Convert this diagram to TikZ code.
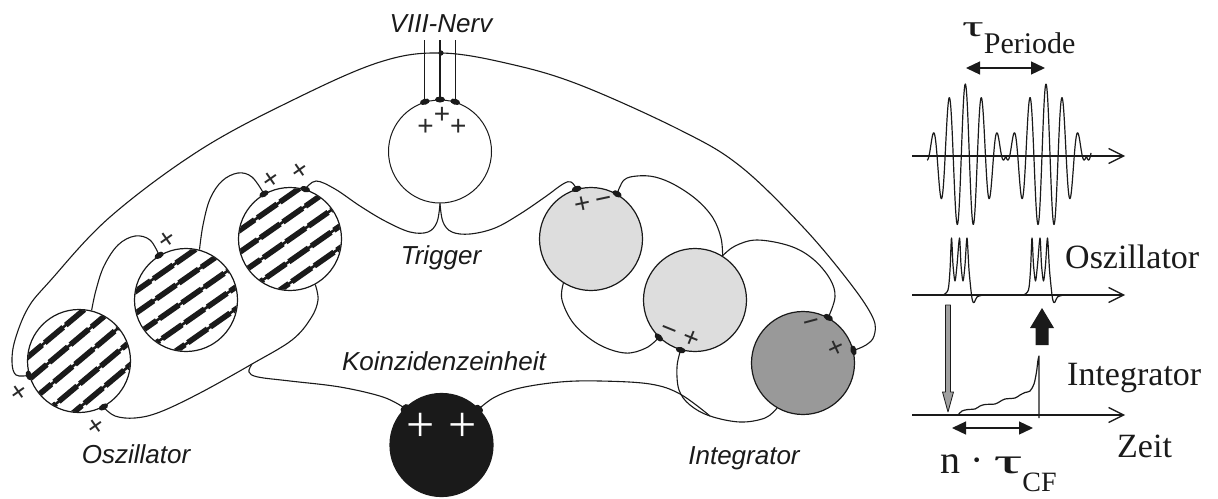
\documentclass[tikz,border=0pt]{standalone}
\usepackage{graphicx}
\usepackage{fontspec}
\setmainfont{Liberation Serif}
\newfontfamily\labelfont{Liberation Sans}
\usetikzlibrary{arrows.meta,shapes.geometric}
\definecolor{ink}{HTML}{1A1A1A}
\definecolor{signgray}{HTML}{2B2B2B}
\definecolor{cellgray}{HTML}{DDDDDD}
\definecolor{darkcell}{HTML}{999999}
\definecolor{arrowgray}{HTML}{A0A0A0}
% diagonal stripes inside an oscillator cell: #1 cell name, #2 angle
\newcommand\hatchcell[2]{%
  \begin{scope}
    \clip (#1.center) circle[radius=50.9pt];
    \begin{scope}[shift={(#1.center)}, rotate=#2]
      \foreach \k in {-3,...,3}{
        \draw[ink, line width=2.6pt] (-60,\k*18) -- (60,\k*18);
        \draw[ink, line width=5.6pt, dash pattern=on 24pt off 3.5pt, dash phase=\k*9pt]
          (-60,\k*18) -- (60,\k*18);}
    \end{scope}
  \end{scope}}
\begin{document}
\begin{tikzpicture}[x=1pt, y=-1pt, line join=round,
  cell/.style={circle, draw=ink, line width=1.2pt, minimum size=103pt, inner sep=0pt},
  knob/.style={ellipse, fill=ink, minimum width=10pt, minimum height=6pt, inner sep=0pt},
  fiber/.style={draw=ink, line width=1.1pt},
  sign/.style={text=signgray, inner sep=0pt, font=\labelfont\fontsize{28}{28}\selectfont},
  cellname/.style={font=\labelfont\itshape\fontsize{26}{30}\selectfont, text=ink, anchor=base, inner sep=0pt},
  serif/.style={font=\fontsize{34}{34}\selectfont, text=ink, anchor=base west, inner sep=0pt},
  axis/.style={draw=ink, line width=1.3pt, -{Straight Barb[length=15pt,width=15pt]}},
  span/.style={draw=ink, line width=1.3pt, {Triangle[length=14pt,width=13pt]}-{Triangle[length=14pt,width=13pt]}},
  trace/.style={draw=ink, line width=1.2pt}]

\useasboundingbox (0,0) rectangle (1218,498);
\fill[white] (0,0) rectangle (1218,498);

% ---- cells ----
\node[cell, fill=white, line width=1pt] (trig) at (440,151.5) {};
\node[cell, fill=white] (osc1) at (79,361) {};
\node[cell, fill=white] (osc2) at (186,300) {};
\node[cell, fill=white] (osc3) at (290,239) {};
\node[cell, fill=cellgray] (int1) at (591,239) {};
\node[cell, fill=cellgray] (int2) at (695,300) {};
\node[cell, fill=darkcell] (int3) at (803,363) {};
\node[cell, fill=ink] (coinc) at (441.5,445) {};
\hatchcell{osc1}{40}
\hatchcell{osc2}{35}
\hatchcell{osc3}{35}

% ---- auxiliary points ----
\coordinate (ntop) at (441,40);
\coordinate (cross) at (441,53);
\coordinate (branch) at (252,364);
\coordinate (merge) at (710,416);

% ---- auditory nerve ----
\draw[fiber] (trig.107) -- (trig.107 |- ntop);
\draw[fiber] (trig.90) -- (trig.90 |- ntop);
\draw[fiber] (trig.73) -- (trig.73 |- ntop);

% ---- fibres ----
\draw[fiber] plot[smooth, tension=0.6] coordinates {(osc1.196) (16,375) (12,362) (15,340) (28,308) (50,281) (110,217) (200,150) (295,99) (380,62) (cross) (510,64) (580,85) (680,130) (740,166) (803,227) (850,283) (873,318) (874,336) (866,345) (int3.14)};
\fill[ink] (cross) circle[radius=2.6pt];

\draw[fiber] plot[smooth, tension=0.6] coordinates {(osc1.76) (96,290) (104,266) (118,245) (135,236) (150,240) (osc2.121)};
\draw[fiber] plot[smooth, tension=0.6] coordinates {(osc2.75) (203,225) (210,199) (222,181) (238,173) (252,177) (osc3.120)};
\draw[fiber] plot[smooth, tension=0.6] coordinates {(osc3.73) (316,181) (335,189) (360,206) (385,221) (410,232) (428,232) (437,222) (trig.south)};
\draw[fiber] plot[smooth, tension=0.6] coordinates {(trig.south) (443,222) (452,232) (470,234) (495,228) (520,214) (545,197) (563,184) (571,182) (int1.106)};
\draw[fiber] plot[smooth, tension=0.6] coordinates {(int1.60) (624,180) (637,176) (655,177) (675,185) (697,200) (713,218) (721,238) (int2.58)};
\draw[fiber] plot[smooth, tension=0.6] coordinates {(int2.58) (735,246) (757,240) (790,246) (813,259) (830,279) (835,297) (int3.61)};
\draw[fiber] plot[smooth, tension=0.6] coordinates {(int1.238) (562,300) (574,324) (598,344) (625,353) (646,348) (int2.226)};
\draw[fiber] plot[smooth, tension=0.6] coordinates {(int2.254) (677,367) (679,390) (690,405) (merge) (740,422) (765,418) (int3.240)};
\draw[fiber] plot[smooth, tension=0.6] coordinates {(coinc.44) (495,397) (520,388) (560,382) (600,381) (650,384) (680,394) (merge)};
\draw[fiber] plot[smooth, tension=0.6] coordinates {(osc3.299) (318,300) (311,318) (292,340) (branch) (200,393) (160,412) (135,418) (115,416) (osc1.298)};
\draw[fiber] plot[smooth, tension=0.6] coordinates {(branch) (249,372) (258,377) (290,381) (340,387) (383,397) (coinc.135)};

% ---- synaptic boutons ----
\node[knob, rotate=286] (k1) at (osc1.196) {};
\node[knob, rotate=388] (k2) at (osc1.298) {};
\node[knob, rotate=211] (k3) at (osc2.121) {};
\node[knob, rotate=210] (k4) at (osc3.120) {};
\node[knob, rotate=163] (k5) at (osc3.73) {};
\node[knob, rotate=197] (k6) at (trig.107) {};
\node[knob, rotate=180] (k7) at (trig.90) {};
\node[knob, rotate=163] (k8) at (trig.73) {};
\node[knob, rotate=196] (k9) at (int1.106) {};
\node[knob, rotate=150] (k10) at (int1.60) {};
\node[knob, rotate=316] (k11) at (int2.226) {};
\node[knob, rotate=344] (k12) at (int2.254) {};
\node[knob, rotate=151] (k13) at (int3.61) {};
\node[knob, rotate=104] (k14) at (int3.14) {};
\node[knob, rotate=225] (k15) at (coinc.135) {};
\node[knob, rotate=134] (k16) at (coinc.44) {};

% ---- signs ----
\node[sign] (s1) at (442,121) {+\raisebox{12pt}{+}+};
\node[sign, rotate=35] (s4) at (20,393) {+};
\node[sign, rotate=35] (s5) at (97,427) {+};
\node[sign, rotate=35] (s6) at (168,240) {+};
\node[sign, rotate=35] (s7) at (272,180) {+};
\node[sign, rotate=35] (s8) at (301,171) {+};
\node[sign, rotate=12] (s9) at (593,202.5) {+\kern5pt−};
\node[sign, rotate=-22] (s11) at (680,334.5) {−\kern8pt+};
\node[sign, rotate=15] (s13) at (812,325) {−};
\node[sign, rotate=25] (s14) at (836,349) {+};
\node[text=white, inner sep=0pt, font=\fontsize{50}{50}\selectfont] (s15) at (421,427) {+};
\node[text=white, inner sep=0pt, font=\fontsize{50}{50}\selectfont] (s16) at (463,427) {+};

% ---- names ----
\node[cellname] (lnerv) at (441,32) {VIII-Nerv};
\node[cellname] (ltrig) at (441,264) {Trigger};
\node[cellname] (lcoinc) at (444,370) {Koinzidenzeinheit};
\node[cellname] (losc) at (136,463) {Oszillator};
\node[cellname] (lint) at (744,464) {Integrator};

% ---- time courses ----
\coordinate (a1s) at (912,156); \coordinate (a1e) at (1125,156);
\coordinate (a2s) at (912,295); \coordinate (a2e) at (1125,295);
\coordinate (a3s) at (912,415); \coordinate (a3e) at (1125,415);
\draw[axis] (a1s) -- (a1e);
\draw[axis] (a2s) -- (a2e);
\draw[axis] (a3s) -- (a3e);

% stimulus with beating envelope (offset d from the first envelope maximum)
\draw[trace] plot[domain=-38.3:125.7, samples=400, variable=\d]
  ({965.3+\d}, {156-72*abs(cos(2.2305*\d))*cos(22.305*\d)});

% oscillator bursts
\foreach \s in {943,1023.5}
  \draw[trace, shift={(\s,295)}] plot[smooth, tension=0.5] coordinates
   {(0,0) (5,-5) (7,-25) (8.5,-57) (10,-30) (12,-14) (14,-30) (16.5,-57) (18,-30) (20,-14) (22,-30) (24,-57) (26,-25) (28.5,0) (30,7) (31.5,7) (34,2) (40,0)};

% integrator response
\draw[trace] plot[smooth, tension=0.5] coordinates
  {(958,415) (962,411) (968,409.5) (975,409) (980,406) (985,404.5) (995,404) (1000,401.5) (1005,399) (1015,398) (1020,395) (1025,392.5) (1030,391) (1034,384) (1036.5,372) (1038,360) (1039,356)} -- (1039,418);

% trigger / reset arrows
\draw[ink, line width=0.8pt, fill=arrowgray] (945.5,305) -- (950.5,305) -- (950.5,392) -- (953.5,392) -- (948,412) -- (942.5,392) -- (945.5,392) -- cycle;
\fill[ink] (1035.5,345) -- (1048.5,345) -- (1048.5,328) -- (1054,328) -- (1042,308) -- (1030,328) -- (1035.5,328) -- cycle;

% intervals
\coordinate (p1) at (966,68); \coordinate (p2) at (1045,68);
\coordinate (c1) at (952,428); \coordinate (c2) at (1033,428);
\draw[span] (p1) -- (p2);
\draw[span] (c1) -- (c2);

\node[serif] (tper) at (962,36) {\fontsize{30}{30}\selectfont\scalebox{1.8}[1]{τ}\raisebox{-17pt}{\fontsize{30}{30}\selectfont Periode}};
\node[serif] (tosc) at (1065,268) {Oszillator};
\node[serif] (tint) at (1067,385) {Integrator};
\node[serif] (tzeit) at (1117,457) {Zeit};
\node[serif] (tncf) at (940,473) {\fontsize{40}{40}\selectfont n · \scalebox{2}[1]{\fontsize{36}{36}\selectfont τ}\raisebox{-18pt}{\fontsize{28}{28}\selectfont CF}};
\end{tikzpicture}
\end{document}
